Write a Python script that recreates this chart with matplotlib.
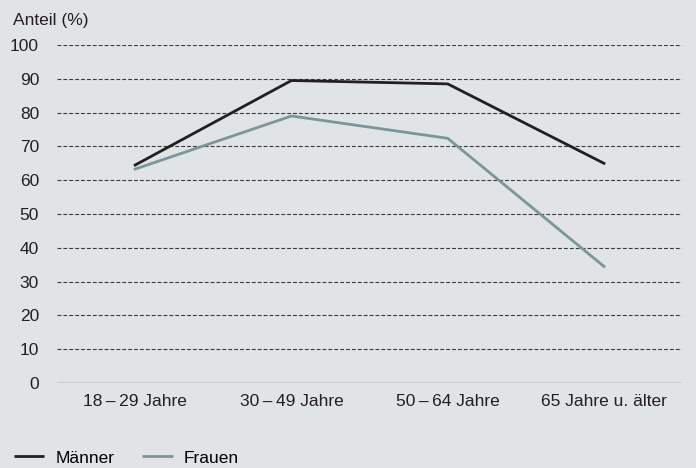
import numpy as np
import matplotlib.pyplot as plt
from matplotlib.lines import Line2D

plt.rcParams['font.family'] = ['Liberation Sans', 'DejaVu Sans']

# data
gruppen = ["18\u2009–\u200929 Jahre", "30\u2009–\u200949 Jahre", "50\u2009–\u200964 Jahre", "65 Jahre u. älter"]
maenner = [64.5, 89.5, 88.5, 65.0]
frauen = [63.3, 79.0, 72.4, 34.5]
y_ticks = list(range(0, 101, 10))

bg = "#e1e4e7"
col_m = "#231f20"
col_f = "#7c9598"
fs = 12.5

fig = plt.figure(figsize=(6.96, 4.68), dpi=100, facecolor=bg)
ax = fig.add_axes([0.082, 0.1816, 0.898, 0.7222], facecolor=bg)

x = np.arange(len(gruppen))
for yv in y_ticks[1:]:
    ax.axhline(yv, color="#3a3a3a", lw=0.8, ls=(0, (3.5, 1.8)), zorder=1)
ax.axhline(0, color="#6d6e70", lw=1.0, zorder=1)

ax.plot(x, maenner, color=col_m, lw=2.0, zorder=3)
ax.plot(x, frauen, color=col_f, lw=2.0, zorder=3)

ax.set_xlim(-0.5, 3.5)
ax.set_ylim(0, 100)
ax.set_xticks(x)
ax.set_xticklabels(gruppen, fontsize=fs, color="#231f20")
ax.set_yticks(y_ticks)
ax.set_yticklabels([str(v) for v in y_ticks], fontsize=fs, color="#231f20")
ax.tick_params(length=0, pad=8)
ax.tick_params(axis="y", pad=13)
for s in ax.spines.values():
    s.set_visible(False)

fig.text(13 / 696, 1 - 20 / 468, "Anteil (%)", fontsize=fs, color="#231f20", va="center", ha="left")

# legend
handles = [Line2D([], [], color=col_m, lw=2.0, solid_capstyle="butt"),
           Line2D([], [], color=col_f, lw=2.0, solid_capstyle="butt")]
fig.legend(handles, ["Männer", "Frauen"], loc="center left", bbox_to_anchor=(14 / 696, 1 - 458 / 468),
           ncol=2, frameon=False, fontsize=fs, handlelength=1.75, handletextpad=0.65,
           columnspacing=1.6, borderpad=0, borderaxespad=0)

fig.savefig("out.png", dpi=100, facecolor=bg)
